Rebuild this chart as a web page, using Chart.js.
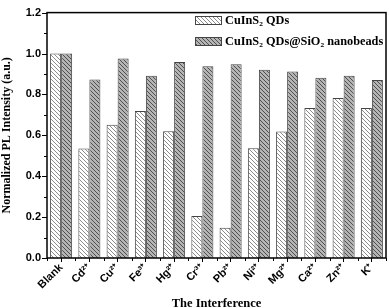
<!DOCTYPE html>
<html><head><meta charset="utf-8">
<script src="https://cdn.jsdelivr.net/npm/chart.js@4.4.0/dist/chart.umd.min.js"></script>
<style>html,body{margin:0;padding:0;background:#fff}#w{width:389px;height:308px}</style>
</head><body><div id="w"><canvas id="c"></canvas></div>
<script>
const categories = ['Blank','Cd²⁺','Cu²⁺','Fe³⁺','Hg²⁺','Cr³⁺','Pb²⁺','Ni²⁺','Mg²⁺','Ca²⁺','Zn²⁺','K⁺'];
const qds = [1.0,0.535,0.652,0.719,0.62,0.205,0.148,0.537,0.619,0.733,0.782,0.733];
const nanobeads = [1.0,0.873,0.975,0.891,0.958,0.938,0.948,0.92,0.912,0.881,0.891,0.871];
const seriesLabels = ['CuInS₂ QDs','CuInS₂ QDs@SiO₂ nanobeads'];
const yTicks = [0,0.2,0.4,0.6,0.8,1.0,1.2];

function hatch(bg, fg){
  const s=4, c=document.createElement('canvas'); c.width=s; c.height=s;
  const x=c.getContext('2d'); x.fillStyle=bg; x.fillRect(0,0,s,s);
  x.strokeStyle=fg; x.lineWidth=1;
  x.beginPath(); x.moveTo(-1,-1); x.lineTo(s+1,s+1);
  x.moveTo(-1,s-1); x.lineTo(1,s+1); x.moveTo(s-1,-1); x.lineTo(s+1,1); x.stroke();
  return x.createPattern(c,'repeat');
}
const ctx=document.getElementById('c').getContext('2d');
const pQ=hatch('#ffffff','#8a8a8a'), pN=hatch('#b4b4b4','#505050');

const extras={id:'extras',
  afterDraw(ch){
    const c=ch.ctx,a=ch.chartArea,y=ch.scales.y,x=ch.scales.x;
    c.save(); c.strokeStyle='#000'; c.lineWidth=1.5;
    c.strokeRect(a.left,a.top,a.right-a.left,a.bottom-a.top);
    c.lineWidth=1;
    c.beginPath();
    for(let v=0; v<=1.2001; v+=0.1){
      const py=Math.round(y.getPixelForValue(v))+0.5;
      const major=Math.round(v*10)%2===0;
      c.moveTo(a.left,py); c.lineTo(a.left-(major?5:3),py);
    }
    for(let i=0;i<=categories.length;i++){
      const px=Math.round(x.getPixelForValue(i-0.5))+0.5;
      c.moveTo(px,a.bottom); c.lineTo(px,a.bottom+3);
    }
    c.stroke();
    const ds=ch.data.datasets;
    c.font='bold 12.3px "Liberation Serif"'; c.textBaseline='middle'; c.fillStyle='#000';
    ds.forEach((d,i)=>{
      const ly=16+i*21;
      c.fillStyle=d.backgroundColor; c.fillRect(195,ly,27,9);
      c.strokeStyle='#444'; c.strokeRect(195.5,ly+0.5,26,8);
      c.fillStyle='#000'; c.fillText(d.label,225,ly+5);
    });
    c.restore();
  }};

new Chart(ctx,{type:'bar',
  data:{labels:categories,datasets:[
    {label:seriesLabels[0],data:qds,backgroundColor:pQ,borderColor:'#444',borderWidth:1},
    {label:seriesLabels[1],data:nanobeads,backgroundColor:pN,borderColor:'#444',borderWidth:1}]},
  options:{responsive:true,maintainAspectRatio:false,animation:false,
    layout:{padding:{top:6,right:3,left:0,bottom:0}},
    plugins:{legend:{display:false},tooltip:{enabled:false}},
    datasets:{bar:{categoryPercentage:0.78,barPercentage:1}},
    scales:{
      x:{grid:{display:true,drawOnChartArea:false,offset:false,color:'#000',tickLength:4},
         border:{display:false},
         ticks:{color:'#000',font:{family:'Liberation Sans',weight:'bold',size:11},minRotation:45,maxRotation:45,padding:-1},
         title:{display:true,text:'The Interference',color:'#000',font:{family:'Liberation Serif',weight:'bold',size:12.5},padding:{top:0,bottom:-3}},
         afterFit(s){s.height=50;}},
      y:{min:0,max:1.2,
         afterBuildTicks(s){s.ticks=yTicks.map(v=>({value:v}));},
         grid:{display:false,drawTicks:false},border:{display:false},
         ticks:{color:'#000',font:{family:'Liberation Sans',weight:'bold',size:11},padding:6,callback:v=>v.toFixed(1)},
         title:{display:true,text:'Normalized PL Intensity (a.u.)',color:'#000',font:{family:'Liberation Serif',weight:'bold',size:12},padding:{top:0,bottom:3}},
         afterFit(s){s.width=47;}}
    }},
  plugins:[extras]});
</script></body></html>
